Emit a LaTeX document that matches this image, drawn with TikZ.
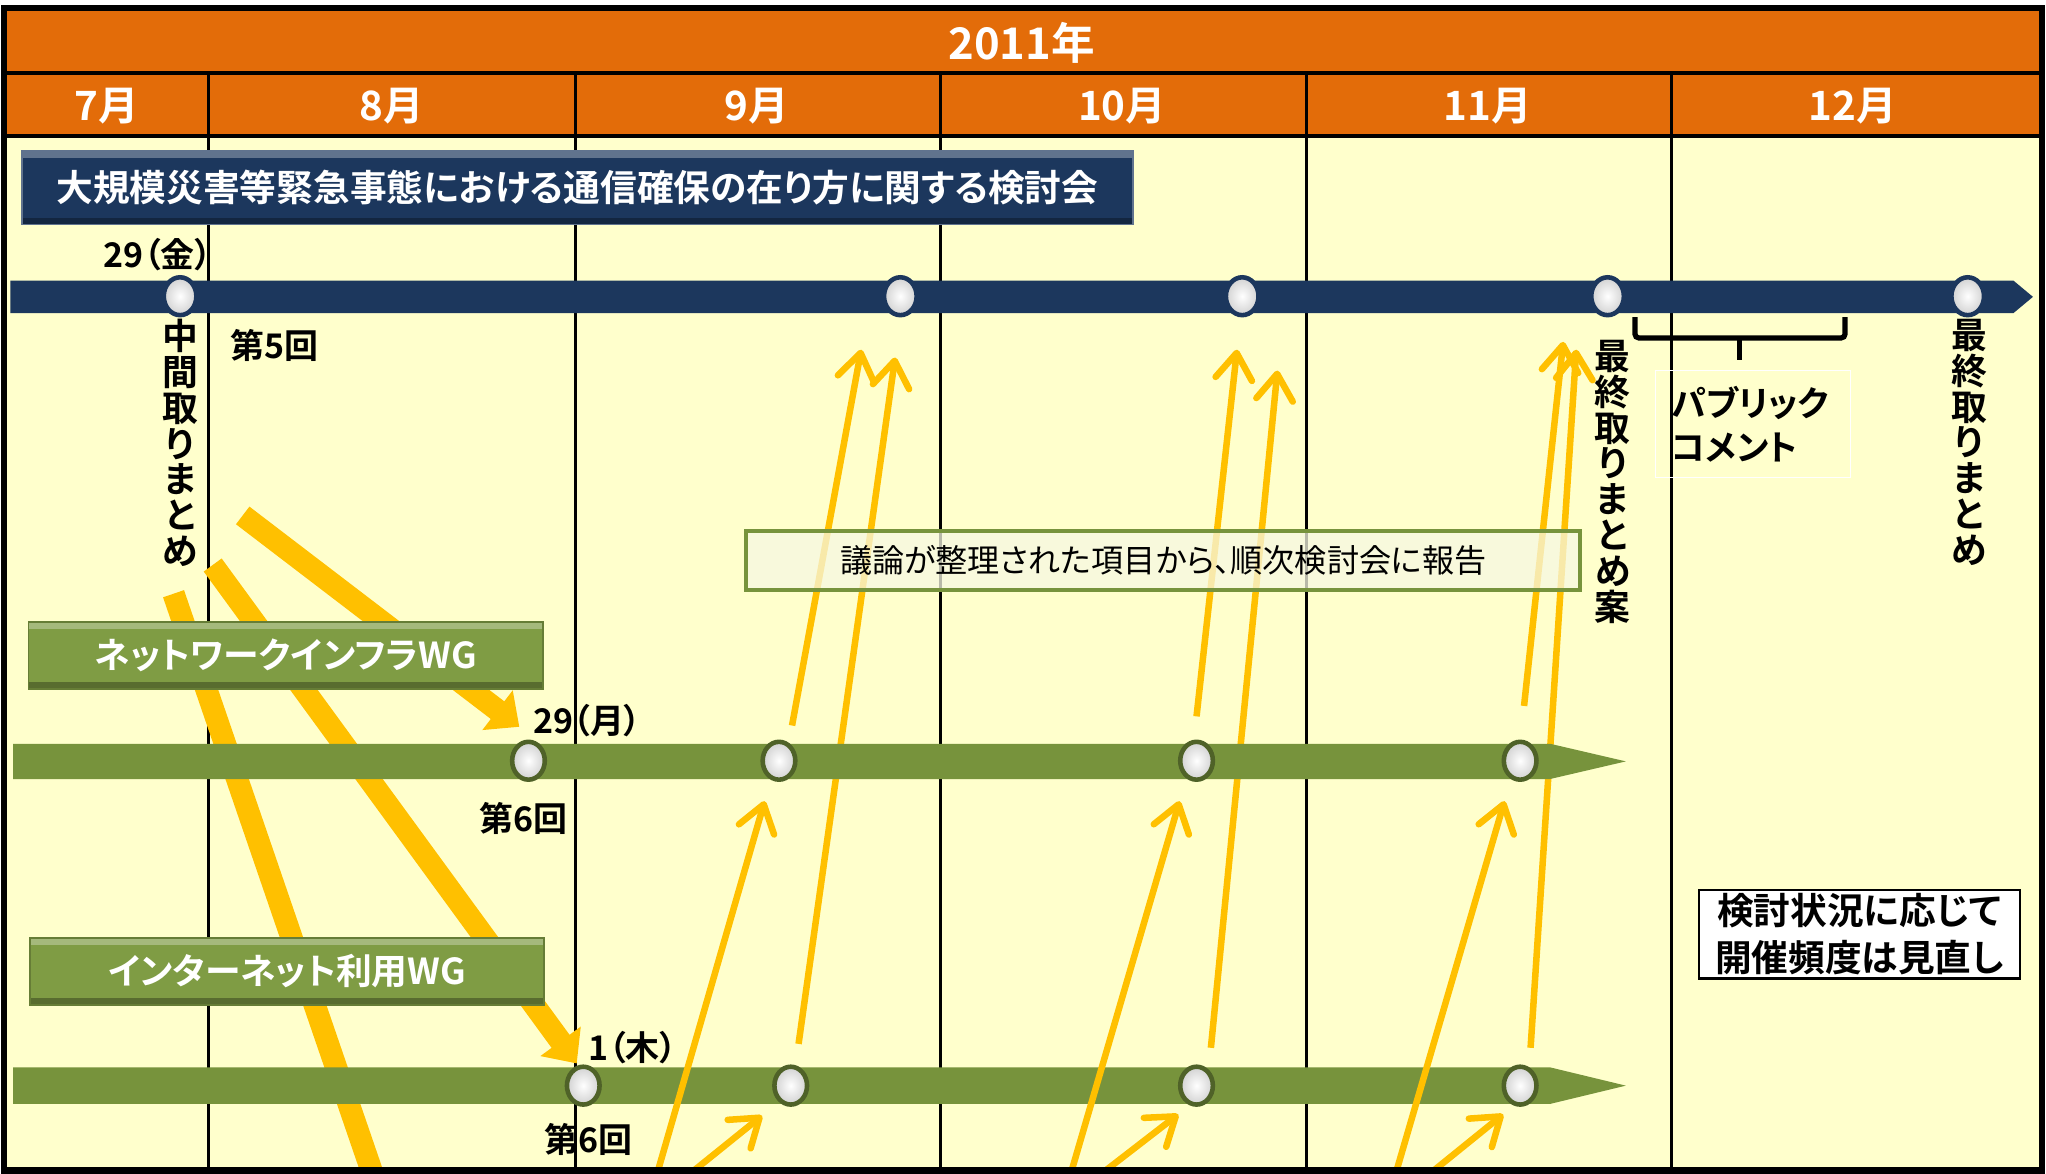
\documentclass[tikz,border=0pt]{standalone}
\usepackage{fontspec}
\setmainfont{Noto Sans CJK JP}[BoldFont={Noto Sans CJK JP Bold},RawFeature=+palt]
\usepackage{tikz}
\usetikzlibrary{arrows.meta,shapes.geometric}
\definecolor{headorange}{RGB}{227,108,9}
\definecolor{paleyellow}{RGB}{255,255,204}
\definecolor{navy}{RGB}{28,55,93}
\definecolor{wggreen}{RGB}{119,147,60}
\definecolor{boxgreen}{RGB}{127,156,68}
\definecolor{wgdark}{RGB}{79,98,40}
\definecolor{arrowyellow}{RGB}{255,192,0}
\definecolor{notefill}{RGB}{246,248,226}
\tikzset{bevel/.style={path picture={
		\fill[white,opacity=0.3] (path picture bounding box.north west) rectangle ([yshift=-0.05cm]path picture bounding box.north east);
		\fill[black,opacity=0.3] (path picture bounding box.south west) rectangle ([yshift=0.05cm]path picture bounding box.south east);}},
	titlebox/.style={bevel, fill=navy, draw=navy!70!white, text=white, font=\bfseries\fontsize{8}{9}\selectfont, minimum width=8.51cm, minimum height=0.56cm, inner sep=0pt},
	wgbox/.style={bevel, fill=boxgreen, draw=boxgreen!80!black, text=white, font=\bfseries\fontsize{7.8}{9}\selectfont, minimum width=3.94cm, minimum height=0.51cm, inner sep=0pt},
	month/.style={text=white, font=\bfseries\fontsize{8.8}{9}\selectfont, inner sep=0pt},
	ball/.style={ellipse, draw=#1, line width=0.035cm, minimum width=0.25cm, minimum height=0.29cm, inner sep=0pt, shading=radial, inner color=white, outer color=black!18},
	date/.style={font=\bfseries\fontsize{7.4}{8}\selectfont, inner sep=0pt},
	vtext/.style={font=\bfseries\fontsize{7.8}{7.8}\selectfont, align=center, inner sep=0pt, anchor=north},
	pcbox/.style={draw=white, line width=0.01cm, text width=1.25cm, inner xsep=0.12cm, minimum height=0.82cm, align=left, font=\bfseries\fontsize{7.6}{9.6}\selectfont},
	notebox/.style={draw=wggreen, line width=0.03cm, fill=notefill, fill opacity=0.75, text opacity=1, minimum width=6.39cm, minimum height=0.45cm, inner sep=0pt, font=\fontsize{7}{8}\selectfont},
	memo/.style={draw=black, fill=white, line width=0.02cm, minimum width=2.46cm, minimum height=0.68cm, inner sep=0pt, align=center, font=\bfseries\fontsize{8}{10.2}\selectfont},
	thickarrow/.style={draw=arrowyellow, line width=0.17cm, -{Triangle[width=0.37cm,length=0.21cm]}},
	thinarrow/.style={draw=arrowyellow, line width=0.05cm, -{Straight Barb[width=0.28cm,length=0.2cm,round]}}}

\begin{document}
\begin{tikzpicture}[x=0.01cm,y=-0.01cm]
	\useasboundingbox (0,0) rectangle (1568,899);
	\clip (0,0) rectangle (1568,899);
	% header and body
	\fill[headorange] (3,6) rectangle (1565,104);
	\fill[paleyellow] (3,104) rectangle (1565,897);
	\node[month, font=\bfseries\fontsize{9.5}{10}\selectfont] (year) at (783,33) {2011年};
	\node[month] (m7) at (82,81) {7月};
	\node[month] (m8) at (300,81) {8月};
	\node[month] (m9) at (580,81) {9月};
	\node[month] (m10) at (860,81) {10月};
	\node[month] (m11) at (1140,81) {11月};
	\node[month] (m12) at (1420,81) {12月};
	\foreach \x in {160,441,721,1001,1281}
		\draw[line width=0.025cm] (\x,56) -- (\x,897);
	\draw[line width=0.03cm] (3,56) -- (1565,56);
	\draw[line width=0.03cm] (3,104) -- (1565,104);
	\node[titlebox] (council) at (442.5,144) {大規模災害等緊急事態における通信確保の在り方に関する検討会};
	% arrow ends
	\coordinate (t1s) at (186,395); \coordinate (t1e) at (398,557);
	\coordinate (t2s) at (163,433); \coordinate (t2e) at (442,815);
	\coordinate (t3s) at (133,455); \coordinate (t3e) at (296,930);
	\coordinate (u1s) at (607,556); \coordinate (u1e) at (660,268);
	\coordinate (u2s) at (917,549); \coordinate (u2e) at (948,268);
	\coordinate (u3s) at (1168,541); \coordinate (u3e) at (1198,262);
	\coordinate (v1s) at (612,800); \coordinate (v1e) at (686,274);
	\coordinate (v2s) at (928,803); \coordinate (v2e) at (979,284);
	\coordinate (v3s) at (1173,803); \coordinate (v3e) at (1208,268);
	\coordinate (w1s) at (502,905); \coordinate (w1e) at (586,614);
	\coordinate (w2s) at (819,905); \coordinate (w2e) at (904,614);
	\coordinate (w3s) at (1068,905); \coordinate (w3e) at (1153,614);
	\coordinate (s1s) at (522,905); \coordinate (s1e) at (584,855);
	\coordinate (s2s) at (837,905); \coordinate (s2e) at (903,854);
	\coordinate (s3s) at (1089,905); \coordinate (s3e) at (1152,854);
	\draw[thickarrow] (t1s) -- (t1e);
	\draw[thickarrow] (t2s) -- (t2e);
	\draw[thickarrow] (t3s) -- (t3e);
	\draw[thinarrow] (v1s) -- (v1e);
	\draw[thinarrow] (v2s) -- (v2e);
	\draw[thinarrow] (v3s) -- (v3e);
	% timelines
	\fill[navy] (8,215) -- (1543,215) -- (1558,227.5) -- (1543,240) -- (8,240) -- cycle;
	\fill[wggreen] (10,570) -- (1188,570) -- (1246,583.5) -- (1188,597) -- (10,597) -- cycle;
	\fill[wggreen] (10,818) -- (1188,818) -- (1246,832) -- (1188,846) -- (10,846) -- cycle;
	\node[wgbox] (infra) at (219,502.5) {ネットワークインフラWG};
	\node[wgbox] (inet) at (220,744.5) {インターネット利用WG};
	\draw[thinarrow] (u1s) -- (u1e);
	\draw[thinarrow] (u2s) -- (u2e);
	\draw[thinarrow] (u3s) -- (u3e);
	\draw[thinarrow] (w1s) -- (w1e);
	\draw[thinarrow] (w2s) -- (w2e);
	\draw[thinarrow] (w3s) -- (w3e);
	\draw[thinarrow] (s1s) -- (s1e);
	\draw[thinarrow] (s2s) -- (s2e);
	\draw[thinarrow] (s3s) -- (s3e);
	\node[ball=navy] (n1) at (138,227) {};
	\node[ball=navy] (n2) at (690,227) {};
	\node[ball=navy] (n3) at (952,227) {};
	\node[ball=navy] (n4) at (1232,227) {};
	\node[ball=navy] (n5) at (1508,227) {};
	\node[ball=wgdark] (a1) at (405,583) {};
	\node[ball=wgdark] (a2) at (597,583) {};
	\node[ball=wgdark] (a3) at (917,583) {};
	\node[ball=wgdark] (a4) at (1165,583) {};
	\node[ball=wgdark] (b1) at (447,832) {};
	\node[ball=wgdark] (b2) at (606,832) {};
	\node[ball=wgdark] (b3) at (917,832) {};
	\node[ball=wgdark] (b4) at (1165,832) {};
	% labels
	\node[date] (d1) at (121,195) {29（金）};
	\node[vtext] (mid) at (138,244) {中\\間\\取\\り\\ま\\と\\め};
	\node[date] (r5) at (210,265) {第5回};
	\node[vtext] (draft) at (1236,260) {最\\終\\取\\り\\ま\\と\\め\\案};
	\node[vtext] (final) at (1509,244) {最\\終\\取\\り\\ま\\と\\め};
	\draw[line width=0.04cm, rounded corners=0.03cm] (1253,243) -- (1253,259) -- (1414,259) -- (1414,243);
	\draw[line width=0.04cm] (1333,259) -- (1333,276);
	\node[pcbox] (pc) at (1343.5,325) {パブリック\\コメント};
	\node[date] (d2) at (450,552) {29（月）};
	\node[date] (r6a) at (401,627) {第6回};
	\node[date] (d3) at (485,803) {1（木）};
	\node[date] (r6b) at (451,873) {第6回};
	\node[notebox] (report) at (891.5,429.5) {議論が整理された項目から、順次検討会に報告};
	\node[memo] (review) at (1425,716) {検討状況に応じて\\開催頻度は見直し};
	% frame
	\draw[line width=0.05cm] (3,6) rectangle (1565,897);
\end{tikzpicture}
\end{document}
